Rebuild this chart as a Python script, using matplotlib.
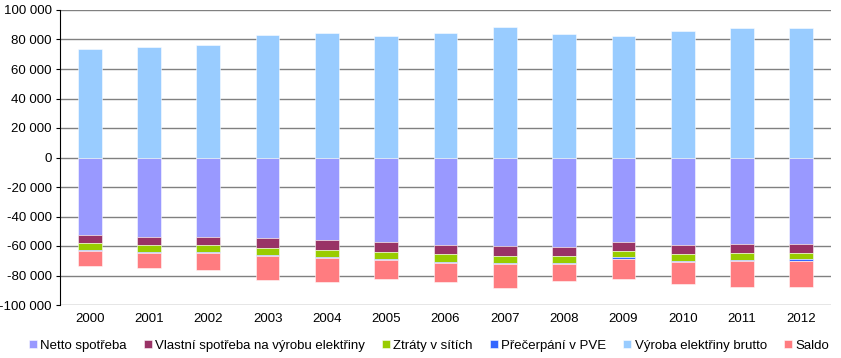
import numpy as np
import matplotlib
matplotlib.use('Agg')
import matplotlib.pyplot as plt
from matplotlib.ticker import FuncFormatter, MultipleLocator

plt.rcParams['font.family'] = ['Liberation Sans', 'DejaVu Sans']

years = ['2000', '2001', '2002', '2003', '2004', '2005', '2006',
         '2007', '2008', '2009', '2010', '2011', '2012']

# GWh
netto = [52300, 53700, 53800, 54800, 56100, 57500, 59300, 59800, 60500, 57100, 59100, 58600, 58900]
vlastni = [5700, 5800, 5700, 6400, 6600, 6400, 6300, 6800, 6300, 6100, 6300, 6400, 6100]
ztraty = [4500, 4800, 4800, 4700, 4800, 4900, 5000, 4700, 4700, 4500, 4600, 4300, 4000]
pve = [700, 700, 700, 900, 900, 900, 900, 900, 700, 900, 900, 700, 1000]
vyroba = [73500, 74600, 76300, 83200, 84300, 82600, 84400, 88200, 83500, 82300, 85900, 87600, 87600]
saldo = [10300, 9600, 11300, 16400, 15900, 12900, 12900, 16000, 11300, 13700, 15000, 17600, 17600]

labels = ['Netto spotřeba', 'Vlastní spotřeba na výrobu elektřiny', 'Ztráty v sítích',
          'Přečerpání v PVE', 'Výroba elektřiny brutto', 'Saldo']
colors = ['#9999FF', '#993366', '#99CC00', '#3366FF', '#99CCFF', '#FF7C80']

fig = plt.figure(figsize=(8.41, 3.58), dpi=100)
ax = fig.add_axes([60 / 841, 53 / 358, 771 / 841, 295 / 358])

x = np.arange(len(years))
w = 0.4
edge = dict(edgecolor=(1, 1, 1, 0.6), linewidth=0.6, zorder=3)

handles = {}
bottom = np.zeros(len(years))
for name, vals, col in [(labels[0], netto, colors[0]), (labels[1], vlastni, colors[1]),
                        (labels[2], ztraty, colors[2]), (labels[3], pve, colors[3])]:
    v = -np.array(vals, dtype=float)
    handles[name] = ax.bar(x, v, w, bottom=bottom, color=col, label=name, **edge)
    bottom += v
handles[labels[4]] = ax.bar(x, vyroba, w, color=colors[4], label=labels[4], **edge)
handles[labels[5]] = ax.bar(x, -np.array(saldo, dtype=float), w, bottom=bottom,
                            color=colors[5], label=labels[5], **edge)

ax.set_xlim(-0.5, len(years) - 0.5)
ax.set_ylim(-100000, 100000)
ax.yaxis.set_major_locator(MultipleLocator(20000))
ax.yaxis.set_major_formatter(FuncFormatter(lambda v, p: f'{v:,.0f}'.replace(',', ' ')))
ax.set_xticks(x)
ax.set_xticklabels(years)
ax.grid(axis='y', color='#808080', linewidth=1, zorder=0)
ax.set_axisbelow(True)
for s in ['top', 'right', 'bottom']:
    ax.spines[s].set_visible(False)
ax.spines['left'].set_color('black')
ax.tick_params(axis='x', length=0, labelsize=9.5, pad=6)
ax.tick_params(axis='y', length=3, labelsize=9.5, pad=3)

fig.legend([handles[l] for l in labels], labels, loc='center', bbox_to_anchor=(0.51, 0.034),
           ncol=6, frameon=False, fontsize=9.5, handlelength=0.6, handleheight=0.6,
           handletextpad=0.25, columnspacing=1.3)

fig.savefig('out.png', dpi=100)
plt.close()
